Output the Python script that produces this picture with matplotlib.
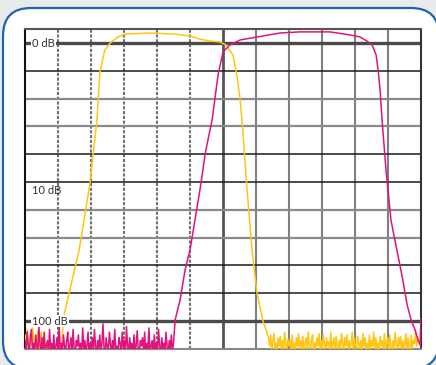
import numpy as np
import matplotlib
matplotlib.use("Agg")
import matplotlib.pyplot as plt
from matplotlib.patches import FancyBboxPatch

# x in screen divisions (0..12), y in dB below reference (0 top, 100 bottom line)
yellow_left_noise = [105, 108, 103, 107, 110, 104.5, 109, 102.5, 106, 111, 105, 108, 103.5,
                     110, 107, 104, 109, 106, 111, 108, 110, 112, 109, 111, 110, 112, 109.5,
                     111, 112, 110.5, 112, 111, 109, 112, 110]
yellow_main_x = [1.15, 1.64, 1.97, 2.18, 2.27, 2.42, 2.58, 2.82, 3.03, 3.79, 4.55, 5.0,
                 5.3, 5.6, 5.9, 6.09, 6.3, 6.42, 6.52, 6.6, 6.73, 6.88, 7.03, 7.21, 7.33]
yellow_main_y = [99.6, 74.5, 50.4, 27.7, 10.4, 2.5, 0, -2.2, -3.2, -3.6, -3.2, -2.5,
                 -1.4, -0.7, -0.4, 0.7, 4.3, 11.5, 20.5, 31.3, 52.9, 74.5, 89.9, 100, 104]
yellow_right_noise = [106, 109, 105, 111, 107, 104.5, 110, 108, 112, 106, 109, 105.5, 111, 107,
                      110, 104, 108, 112, 106.5, 109, 107, 111, 105, 110, 108, 112, 106, 109,
                      104.5, 111, 107, 110, 105.5, 112, 108, 106, 110, 104, 109, 111, 107, 105,
                      112, 108, 110, 106, 109, 104.5, 111, 107, 110, 105, 108, 112, 106, 109,
                      107.5, 111, 104, 110, 108, 106, 112, 105.5, 109, 111, 107, 110, 104.5, 108,
                      112, 106, 109, 105, 111, 107, 110, 108, 104, 112, 106, 109, 111, 105.5,
                      108, 110, 107, 112, 104.5, 109, 106, 111, 108, 110, 105, 112, 107, 109,
                      104, 111, 106, 110, 108, 112, 105.5, 109, 107, 111, 104.5, 110, 108, 106,
                      112, 105, 109, 111, 107, 110, 104, 108, 112, 106, 109, 105.5, 111, 107,
                      110, 108, 104.5, 112, 106, 109, 111, 105, 110, 107, 108, 104, 109, 106]

magenta_noise = [107, 111, 104, 109, 112, 106, 103, 110, 108, 112, 105, 109, 111, 102, 108, 112,
                 106, 110, 104, 111, 109, 107, 112, 103, 110, 108, 111, 105, 112, 109, 106, 111,
                 101.5, 110, 108, 112, 105, 109, 111, 107, 104, 112, 109, 106, 111, 103, 110,
                 112, 107, 109, 105, 111, 108, 112, 102.5, 110, 107, 111, 109, 104, 112, 108,
                 110, 106, 111, 103, 109, 112, 107, 110, 105, 111, 108, 101, 110, 112, 106, 109,
                 111, 104, 108, 112, 107, 110, 103, 111, 109, 112, 106, 108, 111, 104, 110, 107,
                 112, 102, 109, 111, 106, 110, 108, 112, 105, 111, 109, 103.5, 110, 112, 107,
                 109, 106, 111, 104, 112, 108, 110, 102.5, 111, 109, 107, 112, 105, 110, 108,
                 111, 103, 109, 112, 106, 110, 108, 111, 104, 109, 112, 107, 110, 105, 111, 108]
magenta_main_x = [4.55, 4.70, 4.85, 5.0, 5.30, 5.48, 5.67, 5.85, 6.0, 6.21, 6.52, 7.06, 7.73,
                  8.33, 9.24, 9.85, 10.15, 10.36, 10.52, 10.64, 10.7, 10.76, 10.82, 10.94,
                  11.09, 11.27, 11.45, 11.58, 11.70, 11.82, 11.91, 11.97, 12.0, 12.0]
magenta_main_y = [99.6, 92.4, 81.7, 74.5, 52.9, 38.5, 27.7, 11.5, 3.2, 0.7, -1.1, -2.2, -3.6,
                  -4.0, -4.0, -2.9, -2.2, -0.7, 0.7, 4.3, 9.7, 16.9, 27.7, 45.7, 63.7, 74.5,
                  85.3, 94.2, 99.6, 103.2, 106.8, 108.6, 98.9, 110]

db_labels = ["0 dB", "10 dB", "100 dB"]
db_label_y = [0, 53, 100]

YELLOW = "#ffc512"
MAGENTA = "#e2127c"

fig = plt.figure(figsize=(4.36, 3.65), dpi=100)
fig.patch.set_facecolor("#e8eaeb")

# rounded frame behind the plot
frame = FancyBboxPatch((0.03, -0.04), 4.36, 3.61,
                       boxstyle="round,pad=0,rounding_size=0.28",
                       transform=fig.dpi_scale_trans, facecolor="white",
                       edgecolor="#1f65ad", linewidth=1.6, zorder=0)
fig.patches.append(frame)

ax = fig.add_axes([25 / 436, 16 / 365, 396 / 436, 320 / 365])
ax.set_zorder(2)
ax.set_xlim(0, 12)
ax.set_ylim(110.07, -5.04)

# vertical grid
for i in range(1, 12):
    if i < 6:
        ax.axvline(i, color="#707070", lw=1.5, ls=(0, (1.5, 0.8)), zorder=1)
    elif i == 6:
        ax.axvline(i, color="#555555", lw=2.0, zorder=1)
    else:
        ax.axvline(i, color="#808080", lw=1.5, zorder=1)

# horizontal grid
for v in range(0, 101, 10):
    if v in (0, 100):
        ax.axhline(v, color="#4a4a4a", lw=2.4, zorder=1)
    elif v in (10, 40, 50, 80, 90):
        ax.axhline(v, color="#1a1a1a", lw=1.1, zorder=1)
    else:
        ax.axhline(v, color="#8a8a8a", lw=1.6, zorder=1)

yl_x = np.linspace(0, 1.12, len(yellow_left_noise))
yr_x = np.linspace(7.38, 11.9, len(yellow_right_noise))
yx = np.concatenate([yl_x, yellow_main_x, yr_x])
yy = np.concatenate([yellow_left_noise, yellow_main_y, yellow_right_noise])
ax.plot(yx, yy, color=YELLOW, lw=1.1, zorder=3)

mn_x = np.linspace(0, 4.5, len(magenta_noise))
mx = np.concatenate([mn_x, magenta_main_x])
my = np.concatenate([magenta_noise, magenta_main_y])
ax.plot(mx, my, color=MAGENTA, lw=1.1, zorder=4)

for lab, yv in zip(db_labels, db_label_y):
    kw = {}
    if lab != "10 dB":
        kw["bbox"] = dict(facecolor="white", edgecolor="none", pad=0.6)
    ax.text(0.22, yv, lab, fontsize=8, color="#333333", family="Lato",
            ha="left", va="center", zorder=5, **kw)

ax.set_xticks([])
ax.set_yticks([])
ax.spines["left"].set_color("#111111")
ax.spines["top"].set_color("#555555")
ax.spines["right"].set_color("#333333")
ax.spines["bottom"].set_color("#888888")
for s in ax.spines.values():
    s.set_linewidth(1.5)

fig.savefig("out.png", dpi=100)
